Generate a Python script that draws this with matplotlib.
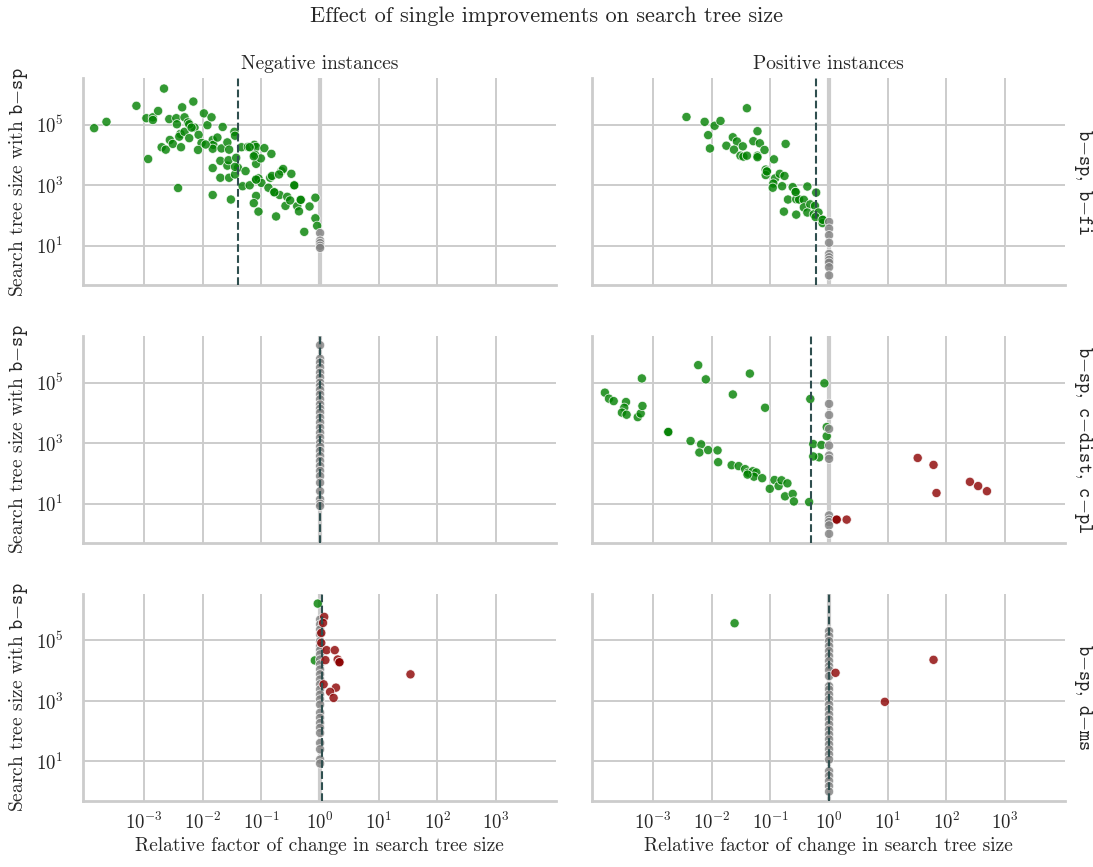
import matplotlib
matplotlib.use("Agg")
import matplotlib.pyplot as plt
from matplotlib.ticker import NullLocator
import numpy as np

plt.rcParams['font.family'] = 'serif'
plt.rcParams['font.serif'] = ['cmr10']
plt.rcParams['mathtext.fontset'] = 'cm'
plt.rcParams['axes.formatter.use_mathtext'] = True
plt.rcParams['text.color'] = '#262626'
plt.rcParams['axes.labelcolor'] = '#262626'

## points are (log10 relative factor, log10 search tree size with b-sp)
neg_bfi = [(-3.85, 4.89), (-3.64, 5.10), (-3.13, 5.63), (-2.66, 6.20), (-2.96, 5.22), (-2.85, 5.25),
           (-2.85, 5.16), (-2.76, 5.46), (-2.93, 3.87), (-2.70, 4.26), (-2.63, 4.18), (-2.57, 5.19),
           (-2.56, 4.50), (-2.51, 4.37), (-2.45, 5.22), (-2.44, 5.02), (-2.35, 5.58), (-2.31, 5.25),
           (-2.38, 4.70), (-2.40, 4.61), (-2.37, 4.26), (-2.31, 4.77), (-2.25, 5.08), (-2.23, 4.56),
           (-2.16, 5.77), (-2.14, 4.91), (-2.07, 4.67), (-2.02, 4.40), (-2.08, 4.17), (-2.42, 2.91),
           (-1.98, 5.38), (-1.92, 4.99), (-1.85, 5.25), (-1.83, 4.50), (-1.82, 4.34), (-1.83, 4.21),
           (-1.75, 4.58), (-1.68, 4.22), (-1.66, 4.93), (-1.83, 3.57), (-1.83, 2.68), (-1.70, 3.81),
           (-1.70, 3.25), (-1.58, 3.65), (-1.58, 4.42), (-1.55, 4.18), (-1.56, 3.83), (-1.55, 3.25),
           (-1.52, 2.53), (-1.46, 4.77), (-1.45, 4.64), (-1.43, 3.91), (-1.40, 3.58), (-1.45, 3.36),
           (-1.34, 4.26), (-1.32, 2.97), (-1.27, 3.47), (-1.23, 4.27), (-1.20, 3.00), (-1.12, 4.34),
           (-1.09, 4.27), (-1.11, 4.01), (-1.09, 3.71), (-1.09, 3.19), (-1.05, 3.23), (-1.09, 2.65),
           (-1.13, 2.41), (-1.05, 2.13), (-1.01, 3.89), (-1.00, 3.08), (-0.95, 4.23), (-0.88, 2.92),
           (-0.85, 3.25), (-0.83, 4.04), (-0.78, 2.77), (-0.75, 1.97), (-0.82, 3.31), (-0.69, 2.68),
           (-0.66, 3.47), (-0.63, 3.54), (-0.59, 2.32), (-0.56, 2.62), (-0.51, 2.50), (-0.49, 3.38),
           (-0.44, 3.00), (-0.39, 2.31), (-0.36, 2.14), (-0.33, 2.52), (-0.27, 1.46), (-0.18, 2.30),
           (-0.08, 2.59), (-0.08, 1.91), (-0.05, 1.66), (-2.23, 5.02), (-2.19, 4.91), (-1.95, 4.35),
           (-1.20, 4.26), (-0.70, 3.36), (-0.78, 2.77), (-0.44, 3.00), (-0.33, 2.52), (-1.13, 3.96),
           (-1.45, 3.61), (-1.09, 3.19),
           (0, 1.42), (0, 1.17), (0, 1.09), (0, 1.00), (0, 0.93)]

pos_bfi = [(-2.43, 5.26), (-2.12, 5.10), (-1.95, 4.97), (-1.85, 5.13), (-2.06, 4.66), (-2.03, 4.22),
           (-1.40, 5.55), (-1.64, 4.59), (-1.57, 4.45), (-1.75, 4.31), (-1.62, 4.18), (-1.47, 4.29),
           (-1.51, 3.98), (-1.46, 3.95), (-1.40, 3.98), (-1.22, 4.79), (-1.29, 4.46), (-1.18, 4.39),
           (-1.22, 3.98), (-1.22, 3.93), (-1.10, 4.17), (-0.74, 4.37), (-0.94, 3.86), (-1.08, 3.52),
           (-1.06, 3.46), (-1.08, 3.34), (-0.92, 3.23), (-0.95, 3.06), (-0.96, 2.92), (-0.84, 3.38),
           (-0.76, 3.31), (-0.80, 2.97), (-0.62, 2.94), (-0.57, 2.78), (-0.37, 2.96), (-0.70, 2.53),
           (-0.56, 2.54), (-0.51, 2.53), (-0.43, 2.52), (-0.43, 2.27), (-0.32, 2.37), (-0.22, 2.76),
           (-0.24, 2.32), (-0.37, 2.10), (-0.26, 2.04), (-0.18, 2.10), (-0.77, 2.13), (-0.56, 2.03),
           (-0.11, 1.86), (-0.11, 1.75), (-0.23, 1.95), (-1.06, 3.46), (-0.57, 2.78), (-0.11, 1.86),
           (0, 1.79), (0, 1.57), (0, 1.35), (0, 1.10), (0, 0.73), (0, 0.62), (0, 0.53), (0, 0.44),
           (0, 0.29), (0, 0.02)]

neg_cdist = [(0, 6.24), (0, 5.79), (0, 5.66), (0, 5.50), (0, 5.33), (0, 5.17), (0, 5.00), (0, 4.89),
             (0, 4.76), (0, 4.61), (0, 4.45), (0, 4.28), (0, 4.14), (0, 4.01), (0, 3.84), (0, 3.68),
             (0, 3.51), (0, 3.34), (0, 3.18), (0, 3.01), (0, 2.88), (0, 2.74), (0, 2.57), (0, 2.41),
             (0, 2.24), (0, 2.08), (0, 1.91), (0, 1.69), (0, 1.41), (0, 1.14), (0, 1.00), (0, 0.92)]

pos_cdist = [(-3.82, 4.67), (-3.75, 4.47), (-3.67, 4.39), (-3.46, 4.36), (-3.49, 4.17), (-3.53, 4.01),
             (-3.45, 3.94), (-3.26, 3.86), (-3.21, 3.98), (-3.18, 4.23), (-3.19, 5.14), (-2.74, 3.37),
             (-2.74, 3.37), (-2.36, 3.07), (-2.18, 2.96), (-2.21, 2.69), (-2.06, 2.77), (-1.90, 2.76),
             (-1.89, 2.37), (-2.23, 5.58), (-2.10, 5.11), (-1.64, 4.61), (-1.35, 5.30), (-1.09, 4.17),
             (-1.66, 2.27), (-1.54, 2.24), (-1.43, 2.14), (-1.38, 2.02), (-1.30, 2.07), (-1.24, 2.03),
             (-1.28, 1.89), (-1.39, 1.96), (-1.14, 1.84), (-1.01, 1.49), (-0.93, 1.78), (-0.86, 1.58),
             (-0.81, 1.77), (-0.71, 1.67), (-0.75, 1.24), (-0.62, 1.32), (-0.60, 1.07), (-0.34, 1.05),
             (-0.32, 4.46), (-0.08, 4.98), (-0.27, 2.97), (-0.13, 2.94), (-0.17, 2.53), (-0.27, 2.56),
             (-0.04, 3.23), (-0.04, 3.53),
             (0, 4.30), (0, 3.93), (0, 3.47), (0, 2.92), (0, 2.59), (0, 2.48), (0, 0.61), (0, 0.47),
             (0, 0.39), (0, 0.28), (0, 0.00),
             (1.51, 2.51), (1.78, 2.28), (1.83, 1.35), (2.40, 1.72), (2.54, 1.58), (2.69, 1.41),
             (0.13, 0.47), (0.13, 0.47), (0.30, 0.47)]

neg_dms = [(-0.04, 6.22), (-0.09, 4.34),
           (0, 5.69), (0, 5.53), (0, 5.36), (0, 5.20), (0, 4.98), (0, 4.81), (0, 4.68), (0, 4.54),
           (0, 4.37), (0, 4.21), (0, 4.04), (0, 3.88), (0, 3.71), (0, 3.55), (0, 3.38), (0, 3.21),
           (0, 3.05), (0, 2.88), (0, 2.61), (0, 2.44), (0, 2.27), (0, 2.11), (0, 1.94), (0, 1.61),
           (0, 1.40), (0, 1.06), (0, 0.93),
           (0.07, 5.78), (0.05, 5.58), (0.02, 5.25), (0.02, 4.92), (0.11, 4.68), (0.25, 4.68),
           (0.09, 4.35), (0.30, 4.37), (0.33, 4.28), (0.33, 4.28), (1.54, 3.88), (0.06, 3.55),
           (0.27, 3.44), (0.17, 3.30), (0.23, 3.10)]

pos_dms = [(-1.61, 5.57),
           (0, 5.31), (0, 5.14), (0, 4.98), (0, 4.81), (0, 4.65), (0, 4.48), (0, 4.32), (0, 4.15),
           (0, 4.02), (0, 3.82), (0, 3.49), (0, 3.38), (0, 3.21), (0, 3.05), (0, 2.88), (0, 2.72),
           (0, 2.55), (0, 2.39), (0, 2.22), (0, 2.05), (0, 1.89), (0, 1.73), (0, 1.56), (0, 1.40),
           (0, 1.23), (0, 1.06), (0, 0.68), (0, 0.52), (0, 0.35), (0, 0.18), (0, 0.00),
           (0.11, 3.93), (1.78, 4.36), (0.95, 2.97)]

panels = [[neg_bfi, pos_bfi], [neg_cdist, pos_cdist], [neg_dms, pos_dms]]
# dashed reference lines (relative factor)
mean_factor = [[0.040, 0.60], [1.0, 0.49], [1.07, 1.0]]

col_titles = ['Negative instances', 'Positive instances']
row_titles = [r'$\mathtt{b{-}sp,\ b{-}fi}$', r'$\mathtt{b{-}sp,\ c{-}dist,\ c{-}pl}$', r'$\mathtt{b{-}sp,\ d{-}ms}$']
xticks = [1e-3, 1e-2, 1e-1, 1e0, 1e1, 1e2, 1e3]
yticks = [1e1, 1e3, 1e5]

fig, axes = plt.subplots(3, 2, figsize=(10.93, 8.67), dpi=100, sharex=True, sharey=True)
fig.subplots_adjust(left=83/1093, right=1065/1093, top=1-78.3/867, bottom=1-801/867,
                    wspace=0.076, hspace=0.245)

for r in range(3):
  for c in range(2):
    ax = axes[r, c]
    pts = np.array(panels[r][c], dtype=float)
    x = 10.0 ** pts[:, 0]
    y = 10.0 ** pts[:, 1]
    colors = np.where(pts[:, 0] < 0, 'green', np.where(pts[:, 0] > 0, 'darkred', 'gray'))

    ax.set_xscale('log')
    ax.set_yscale('log')
    ax.axvline(1, color='#cccccc', lw=3, zorder=1)
    ax.scatter(x, y, c=colors, s=44, alpha=0.8, edgecolors='white', linewidths=0.6, zorder=3)
    ax.axvline(mean_factor[r][c], color='darkslategray', ls='--', lw=1.5, zorder=4)

    ax.set_xlim(10 ** -4.04, 10 ** 4.02)
    ax.set_ylim(10 ** -0.31, 10 ** 6.54)
    ax.set_xticks(xticks)
    ax.set_yticks(yticks)
    ax.xaxis.set_minor_locator(NullLocator())
    ax.yaxis.set_minor_locator(NullLocator())
    ax.grid(True, color='#cccccc', lw=1.4)
    ax.set_axisbelow(True)
    for s in ['top', 'right']:
      ax.spines[s].set_visible(False)
    for s in ['left', 'bottom']:
      ax.spines[s].set_color('#cccccc')
      ax.spines[s].set_linewidth(2)
    ax.tick_params(axis='both', length=0, labelsize=13.5, labelcolor='#262626')
    ax.tick_params(axis='y', pad=14)
    ax.tick_params(axis='x', pad=8)

  axes[r, 0].set_ylabel(r'Search tree size with $\mathtt{b{-}sp}$', fontsize=14, labelpad=4)
  axes[r, 1].annotate(row_titles[r], xy=(1.015, 0.5), xycoords='axes fraction', rotation=270,
                      ha='left', va='center', fontsize=14)

for c in range(2):
  axes[0, c].set_title(col_titles[c], fontsize=14, pad=7)
  axes[2, c].set_xlabel('Relative factor of change in search tree size', fontsize=14, labelpad=3)

fig.suptitle('Effect of single improvements on search tree size', fontsize=16, y=1 - 6/867, va='top')

plt.savefig('out.png', dpi=100)
plt.close()
